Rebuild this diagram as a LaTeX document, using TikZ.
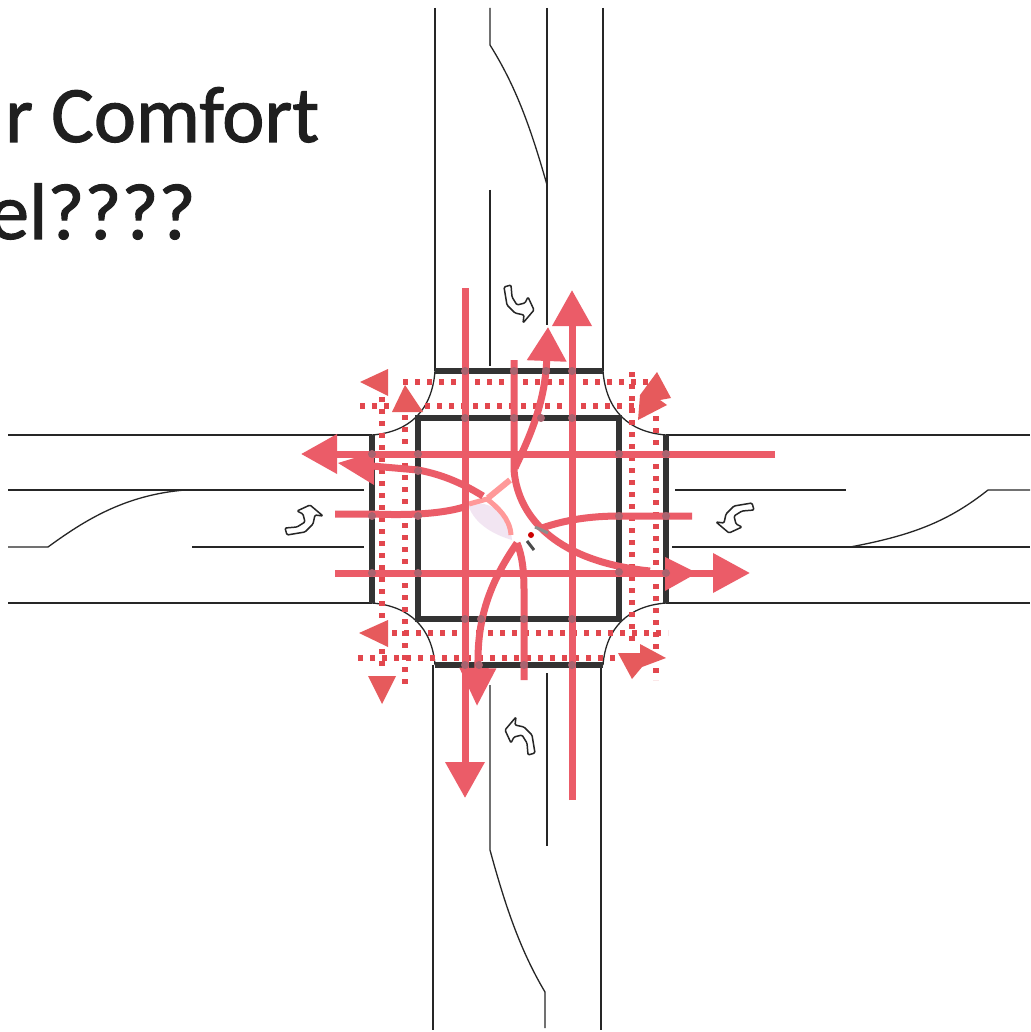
\documentclass[tikz,border=0pt]{standalone}
\usepackage{fontspec}
\setmainfont{Carlito}
\newfontfamily\titlefont[FakeBold=1.3]{Carlito}
\usepackage{xcolor}
\usetikzlibrary{arrows.meta,calc}
\definecolor{flowred}{HTML}{EB5C68}
\definecolor{headred}{HTML}{E65A5C}
\definecolor{dotred}{HTML}{E2474E}
\definecolor{crossdot}{HTML}{A9636F}

\begin{document}
\begin{tikzpicture}[
  x=1pt, y=-1pt,
  road/.style={draw=black!85, line width=1.3pt},
  curb/.style={draw=black!80, line width=5.5pt},
  flow/.style={draw=flowred, line width=7pt},
  flowarrow/.style={flow, -{Triangle[length=36pt, width=38pt]}},
  crosswalk/.style={draw=dotred, line width=5.5pt, dash pattern=on 5pt off 7pt},
  walkhead/.style={fill=headred, draw=none},
  title/.style={anchor=base west, font=\titlefont\fontsize{80}{96}\selectfont, text=black!88, inner sep=0pt},
  uturn/.pic={
    \draw[draw=black!85, fill=white, line width=1.5pt, line join=round, rounded corners=1.2pt]
      (-16,-18) -- (-9,-20) -- (-8,-8) -- (-3,0) -- (5,-2) -- (8,-8) -- (14,5)
      -- (3,18) -- (4,10) -- (-5,8) -- (-13,0) -- cycle;
  }
]
\clip (0,0) rectangle (1030,1032);
\fill[white] (0,0) rectangle (1030,1032);

\node[title] (line1) at (5,142) {r Comfort};
\node[title] (line2) at (-11,239) {el????};

% north and south legs
\draw[road] (435,8) -- (435,371);
\draw[road] (603,8) -- (603,371);
\draw[road] (547,8) -- (547,325);
\draw[road] (490,8) -- (490,45) .. controls (515,85) and (530,125) .. (547,185);
\draw[road] (490,190) -- (490,366);
\draw[road] (433,665) -- (433,1030);
\draw[road] (601,665) -- (601,1030);
\draw[road] (547,673) -- (547,846);
\draw[road] (490,685) -- (490,850) .. controls (505,905) and (520,950) .. (545,992) -- (545,1028);

% east and west legs
\draw[road] (8,435) -- (372,435);
\draw[road] (666,435) -- (1030,435);
\draw[road] (8,603) -- (372,603);
\draw[road] (666,603) -- (1030,603);
\draw[road] (8,490) -- (364,490);
\draw[road] (675,490) -- (846,490);
\draw[road] (192,547) -- (364,547);
\draw[road] (672,547) -- (1030,547);
\draw[road] (8,547) -- (48,547) .. controls (85,520) and (125,495) .. (185,490);
\draw[road] (1030,490) -- (988,490) .. controls (950,520) and (915,535) .. (850,547);

% corner radii
\draw[road] (435,371) .. controls (432,410) and (410,432) .. (372,435);
\draw[road] (603,371) .. controls (606,410) and (628,432) .. (666,435);
\draw[road] (435,665) .. controls (432,628) and (410,606) .. (372,603);
\draw[road] (603,665) .. controls (606,628) and (628,606) .. (666,603);

% stop lines
\draw[curb] (435,371) -- (603,371);
\draw[curb] (435,665) -- (603,665);
\draw[curb] (372,435) -- (372,603);
\draw[curb] (666,435) -- (666,603);
\draw[curb] (418,418) rectangle (619,619);

% crosswalks
\draw[crosswalk] (403,382) -- (650,382);
\draw[crosswalk] (360,406) -- (392,406) (425,406) -- (640,406);
\draw[crosswalk] (392,633) -- (668,633);
\draw[crosswalk] (358,658) -- (640,658);
\draw[crosswalk] (382,397) -- (382,672);
\draw[crosswalk] (405,415) -- (405,688);
\draw[crosswalk] (632,372) -- (632,645);
\draw[crosswalk] (656,404) -- (656,680);

\fill[walkhead] (360,382) -- (388,369) -- (388,396) -- cycle;
\fill[walkhead] (405,385) -- (423,412) -- (392,412) -- cycle;
\fill[walkhead] (359,633) -- (388,620) -- (388,647) -- cycle;
\fill[walkhead] (382,704) -- (368,676) -- (396,676) -- cycle;
\fill[walkhead] (657,372) -- (671,398) -- (660,400) -- (667,405) -- (638,420) -- (640,395) -- cycle;
\fill[walkhead] (618,653) -- (640,653) -- (640,644) -- (666,658) -- (642,667) -- (632,679) -- cycle;

% pale channel in the middle
\fill[violet!10] (468,505) .. controls (490,498) and (510,515) .. (512,540) .. controls (495,535) and (475,525) .. (468,505) -- cycle;
\draw[draw=pink!80!red, line width=6pt] (488,498) -- (510,480);
\draw[draw=pink!80!red, line width=5pt] (469,504) -- (487,499) .. controls (497,507) and (510,518) .. (511,535);

% through movements
\draw[flowarrow] (465,288) -- (465,798);
\draw[flowarrow] (572,800) -- (572,290);
\draw[flowarrow] (775,454) -- (301,454);
\draw[flow, -{Triangle[length=37pt, width=38pt]}] (640,573) -- (750,573);
\draw[flow] (335,573) -- (700,573);
\fill[flowred] (697,573) -- (665,557) -- (665,591) -- cycle;

% turning movements
\draw[flow] (514,360) -- (514,470) .. controls (518,520) and (560,562) .. (650,571);
\draw[flow, -{Triangle[length=34pt, width=38pt]}] (515,468) .. controls (528,440) and (545,405) .. (548,327);
\draw[flow] (335,514) -- (372,514) .. controls (420,516) and (450,512) .. (467,506);
\draw[flow] (692,516) -- (620,516) .. controls (590,516) and (565,520) .. (542,528);
\draw[flow] (524,680) -- (524,590) .. controls (524,570) and (522,555) .. (517,543);
\draw[flow, -{Triangle[length=38pt, width=35pt]}] (517,543) .. controls (495,575) and (478,610) .. (478,660) -- (477,706);
\draw[flow] (372,466) -- (418,470) .. controls (445,475) and (465,485) .. (483,496);
\fill[flowred] (338,463) -- (374,452) -- (374,485) -- cycle;

% marks at the centre
\draw[draw=black!45, line width=3pt] (535,527) -- (548,533);
\draw[draw=black!70, line width=3pt] (527,541) -- (534,550);
\fill[red!80!black] (531,535) circle (3);

% crossings of flows and stop lines
\foreach \cx/\cy in {465/371,514/371,546/371,572/371,465/418,514/418,541/418,572/418,
  465/619,481/619,524/619,572/619,465/665,479/665,524/665,572/665,
  372/454,372/516,372/573,418/454,418/471,418/516,418/573,
  619/454,619/516,619/572,666/454,666/516,666/573}
  \fill[crossdot] (\cx,\cy) circle (4);

% movements allowed on red
\pic[rotate=0] (uturnN) at (520,305) {uturn};
\pic[rotate=180] (uturnS) at (519,735) {uturn};
\pic[rotate=-90] (uturnE) at (734,519) {uturn};
\pic[rotate=90] (uturnW) at (305,519) {uturn};
\end{tikzpicture}
\end{document}
